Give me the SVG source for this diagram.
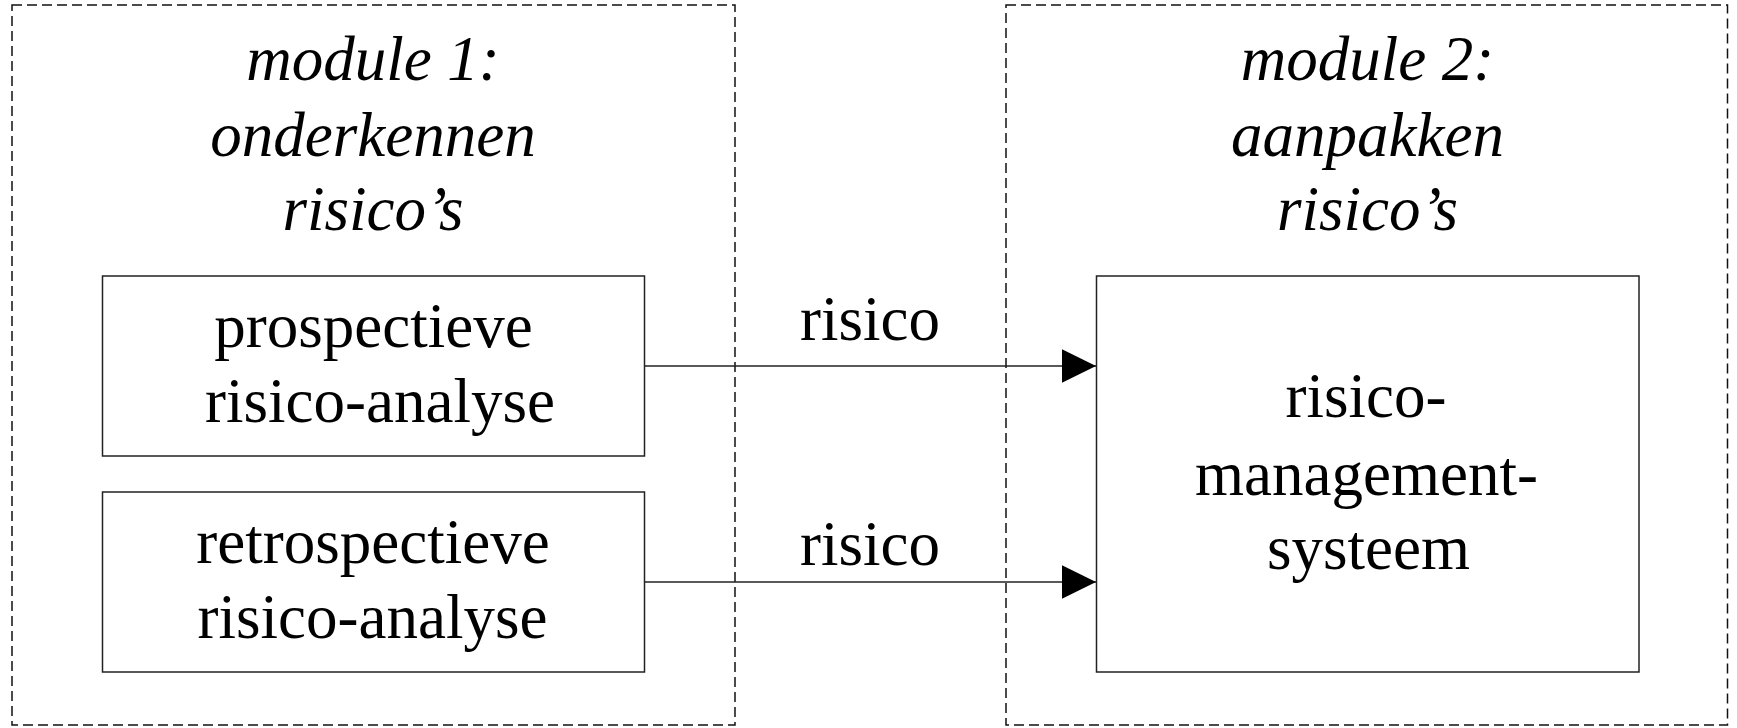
<svg xmlns="http://www.w3.org/2000/svg" width="1737" height="728" viewBox="0 0 1737 728">
  <style>
    .module { fill: none; stroke: #111; stroke-width: 1.5; stroke-dasharray: 10 5; }
    .box { fill: #fff; stroke: #222; stroke-width: 1.5; }
    .title { font-family: "Liberation Serif", "Times New Roman", serif; font-style: italic; font-size: 63px; fill: #000; text-anchor: middle; }
    .label { font-family: "Liberation Serif", "Times New Roman", serif; font-size: 63px; fill: #000; text-anchor: middle; }
    .edge { fill: none; stroke: #222; stroke-width: 1.5; }
  </style>
  <defs>
    <marker id="arrow" markerUnits="userSpaceOnUse" markerWidth="34" markerHeight="34" refX="34" refY="17" orient="auto">
      <path d="M0,0.3 L34,17 L0,33.7 Z" fill="#000"/>
    </marker>
  </defs>

  <!-- module 1: dashed frame and title -->
  <g id="module1">
    <rect class="module" x="12" y="5" width="723" height="720"/>
    <text class="title" x="373" y="80">module 1:</text>
    <text class="title" x="373" y="156">onderkennen</text>
    <text class="title" x="373" y="230">risico’s</text>
  </g>

  <!-- module 2: dashed frame and title -->
  <g id="module2">
    <rect class="module" x="1006" y="5" width="721.5" height="720"/>
    <text class="title" x="1367.5" y="80">module 2:</text>
    <text class="title" x="1367.5" y="156">aanpakken</text>
    <text class="title" x="1367.5" y="230">risico’s</text>
  </g>

  <g id="prospectief">
    <rect class="box" x="102.5" y="276" width="542" height="180"/>
    <text class="label" x="373.5" y="346.5">prospectieve</text>
    <text class="label" x="380" y="422">risico-analyse</text>
  </g>

  <g id="retrospectief">
    <rect class="box" x="102.5" y="492" width="542" height="180"/>
    <text class="label" x="373" y="563">retrospectieve</text>
    <text class="label" x="372.5" y="638">risico-analyse</text>
  </g>

  <g id="rms">
    <rect class="box" x="1096.5" y="276" width="542.5" height="396"/>
    <text class="label" x="1366" y="416.5">risico-</text>
    <text class="label" x="1366.5" y="495">management-</text>
    <text class="label" x="1368.5" y="568.5">systeem</text>
  </g>

  <!-- connectors -->
  <g id="connectors">
    <path class="edge" d="M644.5,366 H1096" marker-end="url(#arrow)"/>
    <text class="label" x="870" y="340">risico</text>
    <path class="edge" d="M644.5,582 H1096" marker-end="url(#arrow)"/>
    <text class="label" x="870" y="565">risico</text>
  </g>
</svg>
